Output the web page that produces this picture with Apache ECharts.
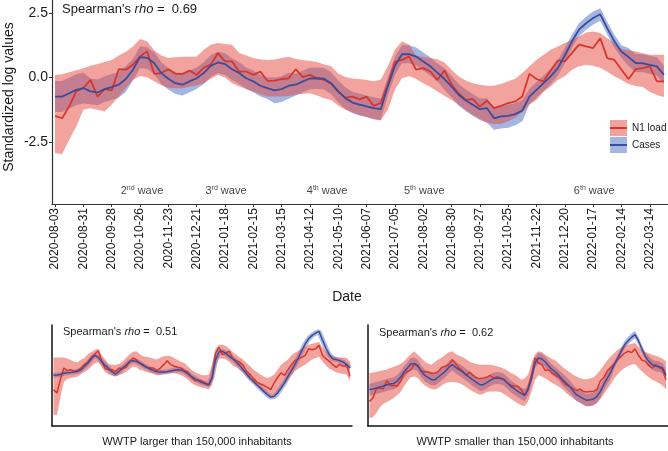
<!DOCTYPE html>
<html>
<head>
<meta charset="utf-8">
<script src="https://cdn.jsdelivr.net/npm/echarts@6/dist/echarts.min.js"></script>
<style>
html, body { margin: 0; padding: 0; background: #fff; }
#chart { width: 668px; height: 451px; }
</style>
</head>
<body>
<div id="chart"></div>
<script>
// weekly values, first week starts 2020-08-03
const startDate = '2020-08-03';
const tickLabels = ['2020-08-03', '2020-08-31', '2020-09-28', '2020-10-26', '2020-11-23', '2020-12-21',
    '2021-01-18', '2021-02-15', '2021-03-15', '2021-04-12', '2021-05-10', '2021-06-07', '2021-07-05',
    '2021-08-02', '2021-08-30', '2021-09-27', '2021-10-25', '2021-11-22', '2021-12-20', '2022-01-17',
    '2022-02-14', '2022-03-14'];
const yTicks = [-2.5, 0, 2.5];

const waveDates = ['2020-10-28', '2021-01-19', '2021-04-29', '2021-08-03', '2022-01-18'];
const waveNum = ['2', '3', '4', '5', '6'];
const waveSup = ['nd', 'rd', 'th', 'th', 'th'];

// all WWTP
const n1 = [-1.49,-1.58,-1.12,-0.54,-0.41,-0.09,-0.74,-0.45,-0.50,0.32,0.30,0.49,0.81,1.01,0.14,0.17,0.32,0.14,0.14,0.27,0.10,0.38,0.50,0.94,0.62,0.62,0.23,0.23,0.10,0.23,-0.13,-0.12,-0.06,-0.03,0.32,0.01,0.10,-0.03,-0.09,-0.25,-0.55,-0.78,-0.74,-0.85,-0.74,-1.10,-0.99,-0.25,0.60,0.68,0.81,0.30,0.36,0.23,-0.09,0.27,-0.28,-0.61,-0.87,-0.84,-1.13,-0.90,-1.19,-1.10,-0.99,-0.93,-0.74,0.14,-0.06,-0.15,0.27,0.66,0.62,0.94,1.27,1.20,1.14,1.52,0.75,0.68,0.30,-0.06,0.32,0.36,0.43,-0.15,-0.15];
const n1Hi = [0.10,0.12,0.20,0.28,0.36,0.45,0.52,0.60,0.68,0.85,1.00,1.20,1.49,1.40,1.05,0.85,0.75,0.78,0.80,0.80,0.81,1.07,1.27,1.33,1.30,1.27,0.95,0.85,0.75,0.70,0.68,0.70,0.75,0.80,0.72,0.68,0.64,0.60,0.50,0.43,0.15,0.02,-0.04,-0.06,-0.10,-0.15,-0.09,0.43,1.07,1.40,1.27,0.84,0.79,0.75,0.71,0.58,0.30,0.04,-0.12,-0.22,-0.28,-0.32,-0.32,-0.25,-0.15,-0.05,0.17,0.43,0.68,0.88,1.07,1.20,1.33,1.46,1.59,1.74,1.78,1.72,1.52,1.33,1.10,1.05,1.01,0.94,0.88,0.88,0.88];
const n1Lo = [-2.93,-2.96,-2.41,-1.90,-1.25,-1.19,-1.25,-1.32,-1.06,-0.74,-0.41,-0.09,0.06,0.01,-0.15,-0.30,-0.40,-0.42,-0.42,-0.35,-0.30,-0.22,-0.05,0.10,0.00,-0.22,-0.35,-0.45,-0.54,-0.65,-0.74,-0.74,-0.74,-0.72,-0.67,-0.63,-0.61,-0.70,-0.80,-0.87,-1.10,-1.25,-1.35,-1.45,-1.52,-1.62,-1.67,-1.25,-0.48,-0.03,0.06,-0.06,-0.22,-0.37,-0.54,-0.71,-0.87,-1.06,-1.25,-1.45,-1.61,-1.74,-1.80,-1.80,-1.70,-1.55,-1.35,-1.05,-0.87,-0.55,-0.35,-0.10,0.05,0.30,0.43,0.48,0.45,0.38,0.22,0.05,-0.10,-0.25,-0.33,-0.37,-0.55,-0.68,-0.76];
const cases = [-0.74,-0.74,-0.61,-0.48,-0.41,-0.54,-0.58,-0.45,-0.37,-0.28,-0.06,0.30,0.79,0.76,0.56,0.17,-0.05,-0.22,-0.28,-0.15,-0.03,0.17,0.45,0.58,0.52,0.32,0.17,-0.03,-0.15,-0.32,-0.41,-0.50,-0.45,-0.32,-0.28,-0.15,-0.04,-0.03,-0.05,-0.22,-0.54,-0.80,-0.97,-1.05,-1.12,-1.19,-1.23,-0.35,0.45,0.90,0.90,0.81,0.62,0.43,0.19,-0.06,-0.35,-0.67,-0.89,-1.06,-1.23,-1.19,-1.58,-1.51,-1.49,-1.42,-1.28,-0.74,-0.48,-0.22,0.04,0.36,0.85,1.40,1.85,2.10,2.30,2.45,1.90,1.40,1.00,0.79,0.56,0.55,0.49,0.43,0.10];
const casesHi = [-0.14,-0.14,-0.01,0.12,0.19,-0.04,-0.08,0.05,0.13,0.22,0.44,0.72,1.21,1.18,0.98,0.59,0.37,0.20,0.14,0.27,0.39,0.59,0.87,1.00,0.94,0.74,0.59,0.39,0.27,0.10,0.01,0.00,0.05,0.18,0.14,0.27,0.38,0.39,0.37,0.20,-0.12,-0.38,-0.55,-0.63,-0.70,-0.77,-0.81,0.00,0.80,1.25,1.25,1.16,0.97,0.78,0.54,0.36,0.07,-0.25,-0.47,-0.64,-0.81,-0.80,-1.15,-1.08,-1.05,-1.00,-0.88,-0.44,-0.18,0.08,0.34,0.66,1.15,1.65,2.10,2.35,2.55,2.68,2.15,1.65,1.25,1.14,0.91,0.90,0.84,0.78,0.45];
const casesLo = [-1.34,-1.34,-1.21,-1.08,-1.01,-1.04,-1.08,-0.95,-0.87,-0.78,-0.56,-0.12,0.37,0.34,0.14,-0.25,-0.47,-0.64,-0.70,-0.57,-0.45,-0.25,0.03,0.16,0.10,-0.10,-0.25,-0.45,-0.57,-0.74,-0.83,-1.00,-0.95,-0.82,-0.70,-0.57,-0.46,-0.45,-0.47,-0.64,-0.96,-1.22,-1.39,-1.47,-1.54,-1.61,-1.65,-0.70,0.10,0.55,0.55,0.46,0.27,0.08,-0.16,-0.48,-0.77,-1.09,-1.31,-1.48,-1.65,-1.75,-2.02,-1.98,-1.95,-1.85,-1.70,-1.04,-0.78,-0.52,-0.26,0.06,0.55,1.15,1.60,1.85,2.05,2.20,1.65,1.15,0.75,0.44,0.21,0.20,0.14,0.08,-0.25];

// WWTP larger than 150,000 inhabitants
const bigN1 = [-0.95,-1.18,-0.28,0.50,0.33,0.39,0.28,0.33,0.50,0.73,0.91,1.22,1.45,1.67,0.95,0.46,0.39,0.39,0.28,0.50,0.46,0.55,0.91,1.18,1.07,0.84,0.73,0.55,0.50,0.50,0.33,0.50,0.73,1.00,0.73,0.62,0.55,0.50,0.33,0.24,-0.12,-0.35,-0.30,-0.39,-0.50,-0.66,-0.17,1.51,1.89,1.40,1.51,1.63,1.13,1.00,0.91,0.68,0.28,0.06,-0.21,-0.44,-0.57,-0.66,-0.80,-0.95,-0.50,-0.12,0.17,0.01,0.39,0.73,1.00,1.13,1.22,1.36,1.80,1.74,1.80,2.03,1.36,1.13,0.95,0.73,0.55,0.77,0.62,0.68,-0.06];
const bigN1Hi = [1.22,1.22,1.22,1.22,1.15,1.04,0.93,0.89,1.07,1.18,1.45,1.58,1.74,1.80,1.36,1.07,0.77,0.73,0.73,0.77,0.95,1.18,1.40,1.58,1.63,1.45,1.29,1.24,1.22,1.13,1.07,1.22,1.29,1.33,1.29,1.18,1.04,0.93,0.84,0.60,0.39,0.24,0.12,0.03,0.01,0.03,0.73,1.80,2.07,2.07,1.98,1.80,1.56,1.40,1.22,1.07,0.84,0.62,0.39,0.24,0.06,-0.06,-0.17,-0.08,0.06,0.39,0.73,0.91,1.07,1.36,1.51,1.67,1.78,1.96,2.07,2.14,2.21,2.25,1.89,1.63,1.45,1.31,1.24,1.22,1.20,1.18,0.95];
const bigN1Lo = [-2.63,-2.68,-1.47,-0.44,-0.24,-0.17,-0.12,-0.08,0.10,0.24,0.39,0.60,0.82,0.91,0.55,0.24,0.06,-0.01,-0.06,0.01,0.10,0.24,0.41,0.60,0.55,0.39,0.33,0.24,0.17,0.10,0.01,0.03,0.10,0.15,0.17,0.15,0.10,0.01,-0.10,-0.28,-0.50,-0.64,-0.73,-0.80,-0.86,-0.95,-0.62,0.62,1.13,1.15,1.07,0.91,0.68,0.55,0.37,0.21,-0.08,-0.30,-0.53,-0.73,-0.95,-1.11,-1.29,-1.42,-1.40,-1.18,-0.84,-0.57,-0.30,0.01,0.28,0.46,0.60,0.73,0.91,1.07,1.18,1.27,0.95,0.68,0.46,0.33,0.21,0.15,0.10,0.06,-0.39];
const bigCases = [0.01,0.03,0.06,0.15,0.19,0.21,0.24,0.28,0.39,0.62,0.84,1.13,1.36,1.22,0.95,0.68,0.46,0.24,0.10,0.28,0.50,0.68,0.91,1.00,0.95,0.84,0.68,0.55,0.44,0.33,0.26,0.24,0.24,0.26,0.30,0.35,0.39,0.37,0.28,0.10,-0.06,-0.21,-0.35,-0.48,-0.55,-0.62,-0.12,1.07,1.58,1.63,1.49,1.29,1.13,0.91,0.68,0.39,0.12,-0.17,-0.39,-0.62,-0.84,-1.07,-1.29,-1.45,-1.42,-1.18,-0.84,-0.50,-0.06,0.33,0.73,1.18,1.67,2.12,2.48,2.70,2.86,2.97,2.41,1.85,1.40,1.13,1.07,1.00,0.91,0.73,0.50];

// WWTP smaller than 150,000 inhabitants
const smallN1 = [-1.74,-1.51,-0.89,-0.84,-0.89,-0.35,-0.68,-0.66,-0.73,-0.39,0.10,0.28,0.39,0.77,0.62,0.33,0.24,0.24,0.15,0.15,0.28,0.55,0.62,0.73,1.07,0.77,0.50,0.28,0.01,0.24,0.01,-0.17,-0.21,-0.17,-0.12,0.01,-0.17,-0.08,-0.17,-0.28,-0.50,-0.66,-0.73,-0.73,-0.95,-1.33,-0.84,0.06,1.18,0.84,0.73,0.33,0.39,0.17,0.01,-0.12,-0.39,-0.62,-0.73,-0.89,-1.02,-0.91,-1.07,-1.11,-1.07,-1.07,-0.93,-0.35,-0.12,0.33,0.55,0.77,1.07,1.29,1.51,1.63,1.54,1.80,1.36,1.04,0.95,0.68,0.50,0.73,0.55,0.39,-0.28];
const smallN1Hi = [0.17,0.21,0.26,0.30,0.35,0.41,0.50,0.57,0.68,0.77,0.95,1.22,1.45,1.63,1.40,1.18,0.95,0.80,0.73,0.91,1.07,1.22,1.40,1.56,1.63,1.45,1.33,1.24,1.09,0.95,0.84,0.77,0.73,0.73,0.73,0.73,0.68,0.62,0.55,0.46,0.33,0.17,0.06,-0.08,-0.28,-0.21,0.06,0.84,1.45,1.63,1.58,1.40,1.24,1.11,1.00,0.77,0.57,0.39,0.24,0.06,-0.06,-0.17,-0.26,-0.26,-0.21,-0.12,0.10,0.39,0.73,1.02,1.29,1.51,1.74,1.89,1.98,2.07,2.14,2.19,1.96,1.74,1.58,1.49,1.40,1.33,1.24,1.13,0.95];
const smallN1Lo = [-2.86,-2.81,-2.52,-2.14,-1.92,-1.78,-1.67,-1.51,-1.33,-1.11,-0.73,-0.39,-0.12,-0.06,-0.17,-0.44,-0.66,-0.80,-0.91,-0.95,-0.84,-0.66,-0.53,-0.46,-0.44,-0.46,-0.50,-0.62,-0.77,-0.93,-1.07,-1.20,-1.29,-1.24,-1.11,-1.07,-1.07,-1.07,-1.11,-1.24,-1.40,-1.56,-1.74,-1.87,-2.01,-2.07,-1.74,-1.07,-0.28,0.01,-0.06,-0.21,-0.35,-0.50,-0.62,-0.77,-0.95,-1.18,-1.36,-1.51,-1.69,-1.82,-1.96,-2.05,-2.07,-2.01,-1.85,-1.58,-1.24,-0.91,-0.57,-0.21,0.10,0.33,0.50,0.64,0.73,0.77,0.50,0.28,0.06,-0.12,-0.28,-0.39,-0.53,-0.68,-0.95];
const smallCases = [-0.95,-0.91,-0.84,-0.77,-0.71,-0.64,-0.57,-0.53,-0.39,-0.12,0.24,0.50,0.77,0.80,0.68,0.28,0.01,-0.12,-0.28,-0.28,-0.10,0.10,0.28,0.55,0.73,0.55,0.39,0.24,0.06,-0.12,-0.30,-0.46,-0.62,-0.62,-0.48,-0.33,-0.21,-0.17,-0.19,-0.28,-0.50,-0.73,-0.89,-1.07,-1.20,-1.33,-0.95,-0.17,0.84,1.18,1.11,0.91,0.62,0.39,0.21,-0.01,-0.28,-0.50,-0.73,-1.02,-1.29,-1.42,-1.56,-1.67,-1.63,-1.58,-1.40,-1.07,-0.57,-0.17,0.24,0.73,1.18,1.63,2.07,2.34,2.57,2.75,2.34,1.80,1.29,0.95,0.73,0.64,0.59,0.50,0.01];
const smallCasesHi = [-0.55,-0.51,-0.44,-0.37,-0.31,-0.24,-0.17,-0.13,0.01,0.28,0.64,0.90,1.17,1.20,1.08,0.68,0.41,0.28,0.12,0.12,0.30,0.50,0.68,0.95,1.13,0.95,0.79,0.64,0.46,0.28,0.10,-0.06,-0.22,-0.22,-0.08,0.07,0.19,0.23,0.21,0.12,-0.10,-0.33,-0.49,-0.67,-0.80,-0.93,-0.55,0.18,1.19,1.53,1.46,1.26,0.97,0.74,0.56,0.34,0.14,-0.08,-0.31,-0.60,-0.87,-1.00,-1.14,-1.25,-1.21,-1.16,-0.98,-0.65,-0.15,0.25,0.66,0.98,1.43,1.88,2.32,2.59,2.82,3.00,2.59,2.05,1.54,1.30,1.08,0.99,0.94,0.85,0.36];
const smallCasesLo = [-1.35,-1.31,-1.24,-1.17,-1.11,-1.04,-0.97,-0.93,-0.79,-0.52,-0.16,0.10,0.37,0.40,0.28,-0.12,-0.39,-0.52,-0.68,-0.68,-0.50,-0.30,-0.12,0.15,0.33,0.15,-0.01,-0.16,-0.34,-0.52,-0.70,-0.86,-1.02,-1.02,-0.88,-0.73,-0.61,-0.57,-0.59,-0.68,-0.90,-1.13,-1.29,-1.47,-1.60,-1.73,-1.35,-0.52,0.49,0.83,0.76,0.56,0.27,0.04,-0.14,-0.36,-0.70,-0.92,-1.15,-1.44,-1.71,-1.84,-1.98,-2.09,-2.05,-2.00,-1.82,-1.49,-0.99,-0.59,-0.18,0.48,0.93,1.38,1.82,2.09,2.32,2.50,2.09,1.55,1.04,0.60,0.38,0.29,0.24,0.15,-0.34];

const DAY = 86400000;
const FONT = '"Liberation Sans", Arial, sans-serif';
const TXT = '#1a1a1a';
const RED = '#d8362b';
const BLUE = '#3a4c9c';
const RED_BAND = 'rgba(230, 72, 62, 0.5)';
const BLUE_BAND = 'rgba(72, 108, 196, 0.5)';

function toTime(s) {
    const p = s.split('-');
    return Date.UTC(+p[0], +p[1] - 1, +p[2]);
}
function fmtDate(t) {
    return new Date(t).toISOString().slice(0, 10);
}

const t0 = toTime(startDate);
const weeks = n1.map((v, i) => t0 + i * 7 * DAY);
const tickTimes = tickLabels.map(toTime);
const xMin = toTime('2020-07-31');
const xMax = toTime('2022-04-01');

function band(g, lo, hi, color, z) {
    return {
        type: 'custom',
        xAxisIndex: g,
        yAxisIndex: g,
        z: z,
        silent: true,
        data: [[weeks[0], lo[0]]],
        renderItem: function (params, api) {
            const top = [];
            const bottom = [];
            for (let i = 0; i < lo.length; i++) {
                top.push(api.coord([weeks[i], hi[i]]));
                bottom.push(api.coord([weeks[i], lo[i]]));
            }
            return {
                type: 'polygon',
                shape: { points: top.concat(bottom.reverse()) },
                style: { fill: color }
            };
        }
    };
}

function line(g, vals, color, width, z) {
    return {
        type: 'line',
        xAxisIndex: g,
        yAxisIndex: g,
        z: z,
        silent: true,
        symbol: 'none',
        data: vals.map((v, i) => [weeks[i], v]),
        lineStyle: { color: color, width: width }
    };
}

function smallX(g) {
    return {
        type: 'value', gridIndex: g, min: xMin, max: xMax,
        axisLine: { show: true, onZero: false, lineStyle: { color: '#111', width: 1.5 } },
        axisTick: { show: false },
        axisLabel: { show: false },
        splitLine: { show: false }
    };
}
function smallY(g) {
    return {
        type: 'value', gridIndex: g, min: -3.4, max: 3.4,
        axisLine: { show: true, onZero: false, lineStyle: { color: '#111', width: 1.5 } },
        axisTick: { show: false },
        axisLabel: { show: false },
        splitLine: { show: false }
    };
}

function rhoText(x, y, size, val) {
    return {
        type: 'text', x: x, y: y,
        style: {
            text: 'Spearman\'s {i|rho} =  ' + val,
            fontSize: size, fontFamily: FONT, fill: TXT,
            verticalAlign: 'middle',
            rich: { i: { fontSize: size, fontFamily: FONT, fontStyle: 'italic', fill: TXT } }
        }
    };
}

const chart = echarts.init(document.getElementById('chart'));

chart.setOption({
    animation: false,
    backgroundColor: '#fff',
    textStyle: { fontFamily: FONT },
    grid: [
        { left: 52, top: 0, width: 616, height: 204 },
        { left: 52, top: 325, width: 300, height: 101 },
        { left: 368, top: 325, width: 300, height: 101 }
    ],
    xAxis: [
        {
            type: 'value', gridIndex: 0, min: xMin, max: xMax,
            axisLine: { show: true, onZero: false, lineStyle: { color: '#333', width: 1.2 } },
            axisTick: { show: true, customValues: tickTimes, length: 3, lineStyle: { color: '#333' } },
            axisLabel: {
                customValues: tickTimes, rotate: 90, margin: 4,
                formatter: fmtDate, fontSize: 12, color: TXT, fontFamily: FONT
            },
            splitLine: { show: false }
        },
        smallX(1),
        smallX(2)
    ],
    yAxis: [
        {
            type: 'value', gridIndex: 0, min: -4.9, max: 3.0,
            axisLine: { show: true, onZero: false, lineStyle: { color: '#333', width: 1.2 } },
            axisTick: { show: true, customValues: yTicks, length: 3, lineStyle: { color: '#333' } },
            axisLabel: {
                customValues: yTicks, margin: 4,
                formatter: v => v.toFixed(1), fontSize: 14, color: TXT, fontFamily: FONT
            },
            splitLine: { show: false }
        },
        smallY(1),
        smallY(2)
    ],
    series: [
        band(0, casesLo, casesHi, BLUE_BAND, 1),
        band(0, n1Lo, n1Hi, RED_BAND, 2),
        line(0, n1, RED, 1.8, 3),
        line(0, cases, BLUE, 1.8, 4),
        {
            type: 'scatter', xAxisIndex: 0, yAxisIndex: 0, symbolSize: 0, silent: true, z: 5,
            data: waveDates.map((d, i) => ({
                value: [toTime(d), -4.40],
                label: { formatter: '{b|' + waveNum[i] + '}{s|' + waveSup[i] + '}{b| wave}' }
            })),
            label: {
                show: true, position: 'inside',
                rich: {
                    b: { fontSize: 11, color: '#111', fontFamily: FONT, lineHeight: 14 },
                    s: { fontSize: 7, color: '#111', fontFamily: FONT, verticalAlign: 'top', lineHeight: 8 }
                }
            }
        },

        line(1, bigCases, 'rgba(72, 108, 196, 0.45)', 5, 1),
        band(1, bigN1Lo, bigN1Hi, RED_BAND, 2),
        line(1, bigN1, RED, 1.5, 3),
        line(1, bigCases, BLUE, 1.5, 4),

        band(2, smallCasesLo, smallCasesHi, BLUE_BAND, 1),
        band(2, smallN1Lo, smallN1Hi, RED_BAND, 2),
        line(2, smallN1, RED, 1.5, 3),
        line(2, smallCases, BLUE, 1.5, 4)
    ],
    graphic: [
        {
            type: 'text', x: 9, y: 97, rotation: Math.PI / 2,
            style: {
                text: 'Standardized log values', fontSize: 14, fontFamily: FONT, fill: TXT,
                align: 'center', verticalAlign: 'middle'
            }
        },
        {
            type: 'text', x: 347, y: 297,
            style: { text: 'Date', fontSize: 14, fontFamily: FONT, fill: TXT, align: 'center', verticalAlign: 'middle' }
        },
        rhoText(62, 9, 13, '0.69'),
        rhoText(63, 332, 11, '0.51'),
        rhoText(379, 333, 11, '0.62'),
        {
            type: 'text', x: 197, y: 442,
            style: {
                text: 'WWTP larger than 150,000 inhabitants', fontSize: 11, fontFamily: FONT, fill: TXT,
                align: 'center', verticalAlign: 'middle'
            }
        },
        {
            type: 'text', x: 515, y: 442,
            style: {
                text: 'WWTP smaller than 150,000 inhabitants', fontSize: 11, fontFamily: FONT, fill: TXT,
                align: 'center', verticalAlign: 'middle'
            }
        },
        // legend keys
        { type: 'rect', shape: { x: 610, y: 120, width: 17, height: 16 }, style: { fill: RED_BAND } },
        { type: 'line', shape: { x1: 610, y1: 128, x2: 627, y2: 128 }, style: { stroke: RED, lineWidth: 2 } },
        { type: 'rect', shape: { x: 610, y: 137, width: 17, height: 16 }, style: { fill: BLUE_BAND } },
        { type: 'line', shape: { x1: 610, y1: 145, x2: 627, y2: 145 }, style: { stroke: BLUE, lineWidth: 2 } },
        {
            type: 'text', x: 632, y: 128,
            style: { text: 'N1 load', fontSize: 10, fontFamily: FONT, fill: TXT, verticalAlign: 'middle' }
        },
        {
            type: 'text', x: 632, y: 145,
            style: { text: 'Cases', fontSize: 10, fontFamily: FONT, fill: TXT, verticalAlign: 'middle' }
        }
    ]
});
</script>
</body>
</html>
